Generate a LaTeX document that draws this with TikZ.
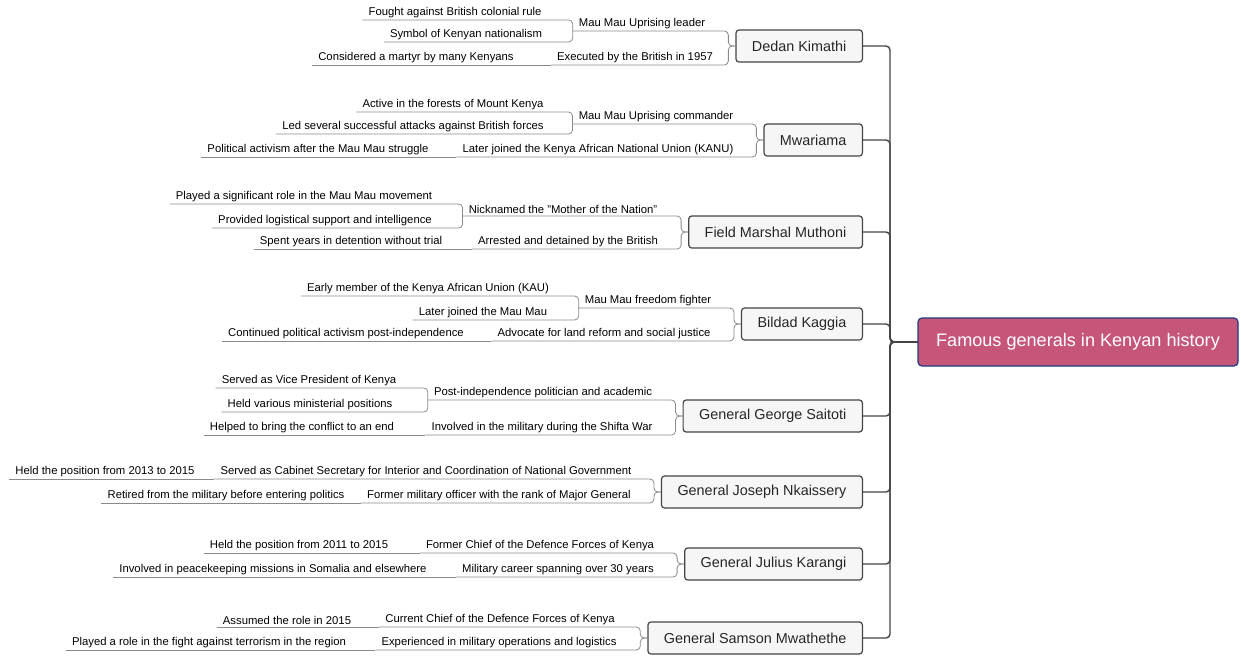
\documentclass[tikz,border=0pt]{standalone}
\usepackage{fontspec}
\setmainfont{Liberation Sans}
\usetikzlibrary{calc}
\definecolor{rootfill}{HTML}{C6557A}
\definecolor{rootdraw}{HTML}{1F3A7A}
\definecolor{boxfill}{HTML}{F6F6F6}
\definecolor{boxdraw}{HTML}{444444}
\definecolor{lgray}{HTML}{8A8A8A}
\begin{document}
\begin{tikzpicture}[x=1pt,y=-1pt,
  lbl/.style={anchor=south,inner xsep=6pt,inner ysep=2pt,font=\fontsize{11.3}{13}\selectfont},
  gen/.style={draw=boxdraw,fill=boxfill,rounded corners=3pt,line width=1.2pt,minimum height=32pt,inner xsep=16pt,font=\fontsize{14.4}{17}\selectfont,text=black!85},
  rootn/.style={draw=rootdraw,fill=rootfill,rounded corners=4pt,line width=1.2pt,minimum height=48pt,minimum width=320pt,text=white,font=\fontsize{18.1}{21}\selectfont},
  c/.style={draw=lgray,line width=0.8pt,rounded corners=4pt},
  t/.style={draw=boxdraw,line width=1.4pt,rounded corners=4pt}]
\useasboundingbox (0,0) rectangle (1240,656);
\node[rootn] (root) at (1078,342) {Famous generals in Kenyan history};
\coordinate (tr) at (890,0);
% boxes
\node[gen,anchor=east] (gA) at (863,46) {Dedan Kimathi};
\node[gen,anchor=east] (gB) at (863,140) {Mwariama};
\node[gen,anchor=east] (gC) at (863,232) {Field Marshal Muthoni};
\node[gen,anchor=east] (gD) at (863,324) {Bildad Kaggia};
\node[gen,anchor=east] (gE) at (863,416) {General George Saitoti};
\node[gen,anchor=east] (gF) at (863,492) {General Joseph Nkaissery};
\node[gen,anchor=east] (gG) at (863,564) {General Julius Karangi};
\node[gen,anchor=east] (gH) at (863,638) {General Samson Mwathethe};
\foreach \g in {gA,gB,gC,gD,gE,gF,gG,gH}{
  \draw[t] (\g.east) -- (\g.east -| tr) -- (tr |- root.west) -- (root.west);
  \coordinate (b\g) at ($(\g.west)+(-7,0)$);
}
% level 2 and 3
\node[lbl] (gA1) at (642,31) {Mau Mau Uprising leader};
\node[lbl] (gA1a) at (455,20) {Fought against British colonial rule};
\node[lbl] (gA1b) at (466,42) {Symbol of Kenyan nationalism};
\node[lbl] (gA2) at (635,65) {Executed by the British in 1957};
\node[lbl] (gA2a) at (416,65) {Considered a martyr by many Kenyans};

\node[lbl] (gB1) at (656,124) {Mau Mau Uprising commander};
\node[lbl] (gB1a) at (453,112) {Active in the forests of Mount Kenya};
\node[lbl] (gB1b) at (413,134) {Led several successful attacks against British forces};
\node[lbl] (gB2) at (598,157) {Later joined the Kenya African National Union (KANU)};
\node[lbl] (gB2a) at (318,157) {Political activism after the Mau Mau struggle};

\node[lbl] (gC1) at (563,216) {Nicknamed the "Mother of the Nation"};
\node[lbl] (gC1a) at (304,204) {Played a significant role in the Mau Mau movement};
\node[lbl] (gC1b) at (325,228) {Provided logistical support and intelligence};
\node[lbl] (gC2) at (568,249) {Arrested and detained by the British};
\node[lbl] (gC2a) at (351,249) {Spent years in detention without trial};

\node[lbl] (gD1) at (648,308) {Mau Mau freedom fighter};
\node[lbl] (gD1a) at (428,296) {Early member of the Kenya African Union (KAU)};
\node[lbl] (gD1b) at (483,320) {Later joined the Mau Mau};
\node[lbl] (gD2) at (604,341) {Advocate for land reform and social justice};
\node[lbl] (gD2a) at (346,341) {Continued political activism post-independence};

\node[lbl] (gE1) at (543,400) {Post-independence politician and academic};
\node[lbl] (gE1a) at (309,388) {Served as Vice President of Kenya};
\node[lbl] (gE1b) at (310,412) {Held various ministerial positions};
\node[lbl] (gE2) at (542,435) {Involved in the military during the Shifta War};
\node[lbl] (gE2a) at (302,435) {Helped to bring the conflict to an end};

\node[lbl] (gF1) at (426,479) {Served as Cabinet Secretary for Interior and Coordination of National Government};
\node[lbl] (gF1a) at (105,479) {Held the position from 2013 to 2015};
\node[lbl] (gF2) at (499,503) {Former military officer with the rank of Major General};
\node[lbl] (gF2a) at (226,503) {Retired from the military before entering politics};

\node[lbl] (gG1) at (540,553) {Former Chief of the Defence Forces of Kenya};
\node[lbl] (gG1a) at (299,553) {Held the position from 2011 to 2015};
\node[lbl] (gG2) at (558,577) {Military career spanning over 30 years};
\node[lbl] (gG2a) at (273,577) {Involved in peacekeeping missions in Somalia and elsewhere};

\node[lbl] (gH1) at (500,627) {Current Chief of the Defence Forces of Kenya};
\node[lbl] (gH1a) at (287,627) {Assumed the role in 2015};
\node[lbl] (gH2) at (499,650) {Experienced in military operations and logistics};
\node[lbl] (gH2a) at (209,650) {Played a role in the fight against terrorism in the region};

\foreach \g in {gA,gB,gC,gD,gE,gF,gG,gH}{
  \foreach \k in {1,2}{
    \draw[c] (\g\k.south west) -- (\g\k.south -| b\g) -- (b\g) -- (\g.west);
  }
}
\foreach \p/\ch in {gA1/gA1a,gA1/gA1b,gB1/gB1a,gB1/gB1b,gC1/gC1a,gC1/gC1b,gD1/gD1a,gD1/gD1b,gE1/gE1a,gE1/gE1b}{
  \draw[c] (\ch.south west) -- (\ch.south -| \p.south west) -- (\p.south west);
}
\foreach \p/\ch in {gA2/gA2a,gB2/gB2a,gC2/gC2a,gD2/gD2a,gE2/gE2a,gF1/gF1a,gF2/gF2a,gG1/gG1a,gG2/gG2a,gH1/gH1a,gH2/gH2a}{
  \draw[c] (\ch.south west) -- (\p.south west);
}
\end{tikzpicture}
\end{document}
